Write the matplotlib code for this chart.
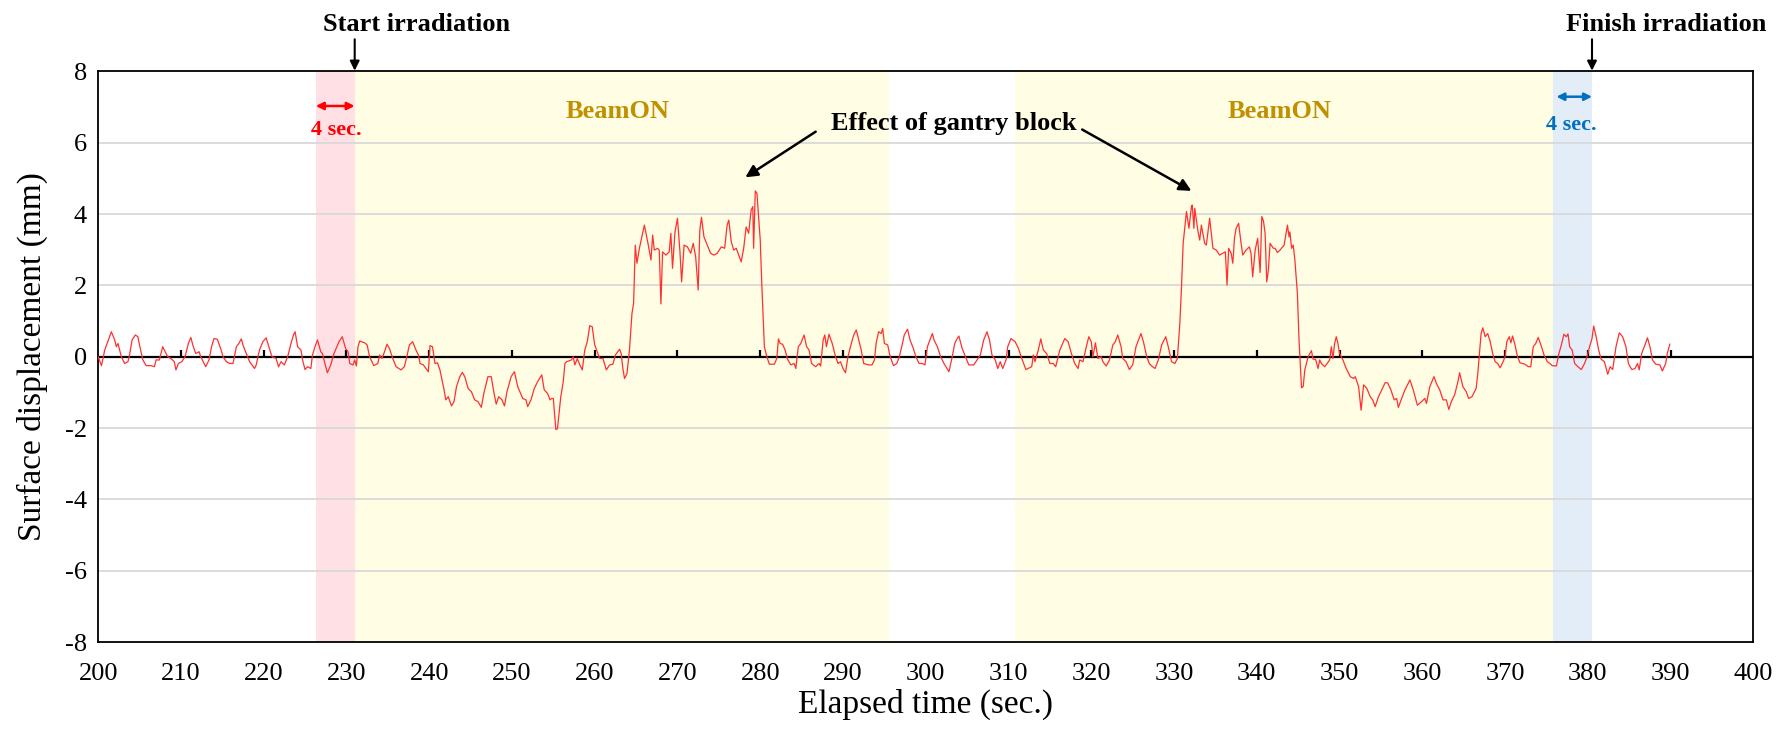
import numpy as np
import matplotlib
matplotlib.use("Agg")
import matplotlib.pyplot as plt

plt.rcParams['font.family'] = ['Liberation Serif', 'DejaVu Serif']
plt.rcParams['axes.unicode_minus'] = False

# surface displacement trace, (elapsed time [sec], displacement [mm])
trace_pre = [
    (200.0, 0.00), (200.4, -0.25), (200.8, 0.19), (201.6, 0.70), (202.0, 0.47), (202.2, 0.28),
    (202.4, 0.37), (202.8, 0.00), (203.2, -0.19), (203.6, -0.14), (203.8, 0.05), (204.1, 0.47),
    (204.5, 0.61), (204.8, 0.56), (205.0, 0.33), (205.4, -0.09), (205.8, -0.25), (206.4, -0.25),
    (206.8, -0.28), (207.0, -0.09), (207.4, -0.09), (207.8, 0.28), (208.1, 0.14), (208.4, 0.00),
    (208.8, -0.05), (209.2, -0.14), (209.4, -0.37), (209.7, -0.19), (210.1, -0.14), (210.5, 0.00),
    (210.9, 0.37), (211.2, 0.54), (211.5, 0.28), (211.8, 0.09), (212.2, 0.14), (212.4, 0.00),
    (212.8, -0.19), (213.0, -0.28), (213.4, -0.09), (213.7, 0.28), (214.0, 0.51), (214.4, 0.49),
    (214.8, 0.23), (215.1, 0.00), (215.5, -0.14), (215.9, -0.19), (216.3, -0.19), (216.7, 0.28),
    (217.0, 0.37), (217.3, 0.50), (217.5, 0.33), (217.9, 0.09), (218.3, -0.14), (218.9, -0.33),
    (219.1, -0.23), (219.5, 0.19), (219.9, 0.42), (220.3, 0.53), (220.7, 0.23), (221.0, 0.00),
    (221.5, -0.05), (221.8, -0.28), (222.1, -0.14), (222.5, -0.23), (222.9, 0.00), (223.3, 0.37),
    (223.6, 0.61), (223.8, 0.70), (224.1, 0.28), (224.5, 0.19), (224.7, -0.09), (225.0, -0.36),
    (225.3, -0.28), (225.7, -0.33), (225.9, 0.05), (226.2, 0.28), (226.5, 0.47), (226.9, 0.14),
    (227.1, 0.09), (227.4, -0.19), (227.7, -0.45), (228.1, -0.23), (228.5, 0.09),
]

trace_beam1_low = [
    (229.1, 0.42), (229.5, 0.56), (229.9, 0.23), (230.2, 0.14), (230.4, -0.19), (230.8, -0.23),
    (231.0, -0.09), (231.2, -0.26), (231.4, 0.28), (231.6, 0.44), (232.2, 0.39), (232.5, 0.33),
    (232.8, 0.00), (233.3, -0.25), (233.8, -0.19), (234.0, 0.05), (234.3, -0.05), (234.6, 0.14),
    (234.9, 0.35), (235.2, 0.23), (235.6, -0.05), (236.0, -0.28), (236.6, -0.37), (237.0, -0.28),
    (237.3, 0.00), (237.6, 0.33), (238.0, 0.42), (238.4, 0.19), (238.7, 0.05), (238.9, -0.19),
    (239.3, -0.23), (239.6, -0.33), (239.9, -0.42), (240.1, 0.31), (240.4, 0.28), (240.7, -0.19),
    (241.0, -0.17), (241.3, -0.37), (241.6, -0.70), (241.8, -0.93), (242.0, -1.21), (242.3, -1.12),
    (242.7, -1.38), (243.0, -1.26), (243.3, -0.84), (243.7, -0.56), (244.0, -0.44), (244.3, -0.56),
    (244.7, -0.89), (245.1, -0.98), (245.5, -1.21), (245.9, -1.26), (246.3, -1.42), (246.6, -1.03),
    (247.1, -0.56), (247.5, -0.56), (247.8, -0.98), (248.1, -1.33), (248.4, -1.12), (248.8, -1.21),
    (249.1, -1.38), (249.4, -0.98), (249.9, -0.56), (250.3, -0.42), (250.7, -0.84), (251.3, -1.17),
    (251.7, -1.21), (251.9, -1.40), (252.3, -1.21), (252.7, -0.89), (253.1, -0.70), (253.6, -0.51),
    (253.9, -0.93), (254.3, -1.03), (254.6, -1.21), (254.8, -1.17), (255.0, -1.17), (255.3, -2.04),
    (255.5, -2.02), (255.9, -1.12), (256.2, -0.70), (256.4, -0.19),
]

trace_beam1_block = [
    (256.6, -0.14), (257.2, -0.09), (257.4, 0.00), (257.6, -0.23), (257.9, -0.05), (258.2, -0.23),
    (258.5, -0.37), (258.8, 0.19), (259.1, 0.42), (259.4, 0.87), (259.7, 0.84), (260.0, 0.33),
    (260.3, 0.14), (260.6, -0.05), (261.0, -0.05), (261.4, -0.37), (261.8, -0.23), (262.2, -0.21),
    (262.5, 0.05), (263.0, 0.21), (263.2, 0.09), (263.4, -0.33), (263.6, -0.61), (263.9, -0.47),
    (264.2, 0.19), (264.5, 1.21), (264.7, 1.50), (264.9, 3.13), (265.1, 2.62), (265.4, 3.04),
    (265.7, 3.36), (266.0, 3.69), (266.4, 3.22), (266.8, 2.71), (267.0, 3.41), (267.2, 2.99),
    (267.6, 3.04), (267.8, 2.99), (268.0, 1.48), (268.2, 2.94), (268.6, 2.85), (269.0, 2.94),
    (269.2, 3.46), (269.4, 2.48), (269.7, 3.50), (270.0, 3.88), (270.3, 2.94), (270.5, 2.10),
    (270.8, 3.13), (271.2, 3.08), (271.6, 2.90), (271.9, 3.18), (272.2, 2.80), (272.5, 1.87),
    (272.7, 3.55), (272.9, 3.91), (273.2, 3.36), (273.6, 3.13), (274.0, 2.90), (274.4, 2.85),
    (274.8, 2.90), (275.3, 3.08), (275.7, 3.04), (276.0, 3.69), (276.2, 3.83), (276.5, 3.22),
    (276.8, 2.99), (277.1, 3.04), (277.4, 2.85), (277.7, 2.66), (278.0, 3.04), (278.3, 3.64),
    (278.6, 3.46), (278.9, 4.11), (279.1, 4.21), (279.2, 3.04), (279.4, 4.65), (279.6, 4.58),
    (279.8, 3.93), (280.0, 3.27), (280.2, 1.96), (280.5, 0.28), (280.8, 0.00), (281.1, -0.21),
    (281.7, -0.21), (282.0, -0.05), (282.2, 0.50), (282.4, 0.37), (282.7, 0.35), (283.0, 0.19),
    (283.3, -0.07),
]

trace_gap = [
    (283.7, -0.23), (284.1, -0.19), (284.3, -0.33), (284.6, 0.28), (284.9, 0.37), (285.3, 0.61),
    (285.6, 0.28), (285.9, 0.19), (286.2, -0.19), (286.7, -0.28), (287.1, -0.19), (287.3, -0.26),
    (287.6, 0.47), (287.8, 0.61), (288.0, 0.28), (288.3, 0.63), (288.7, 0.37), (289.1, 0.00),
    (289.4, -0.19), (289.7, -0.14), (290.0, -0.33), (290.3, -0.45), (290.6, 0.00), (291.0, 0.37),
    (291.3, 0.61), (291.6, 0.75), (291.9, 0.47), (292.2, 0.19), (292.5, -0.19), (293.1, -0.23),
    (293.5, -0.23), (293.8, -0.09), (294.0, 0.37), (294.3, 0.70), (294.6, 0.65), (294.8, 0.79),
    (295.0, 0.37), (295.4, 0.33), (295.7, 0.00), (296.1, -0.25), (296.5, -0.19), (296.8, 0.00),
    (297.1, 0.28), (297.4, 0.61), (297.8, 0.77), (298.1, 0.47), (298.5, 0.23), (298.8, 0.00),
    (299.2, -0.19), (299.6, -0.19), (299.9, -0.23), (300.2, 0.28), (300.5, 0.47), (300.8, 0.65),
    (301.0, 0.47), (301.4, 0.28), (301.8, 0.00), (302.2, -0.19), (302.8, -0.42), (303.2, 0.00),
    (303.5, 0.37), (303.7, 0.47), (304.0, 0.58), (304.4, 0.23), (304.8, 0.00), (305.2, -0.23),
    (305.8, -0.23), (306.2, -0.09), (306.6, 0.05), (307.0, 0.47), (307.4, 0.70), (307.7, 0.47),
    (308.0, 0.05), (308.4, -0.09), (308.7, -0.33), (309.0, -0.14), (309.3, -0.33), (309.7, -0.09),
    (309.9, 0.28), (310.3, 0.51), (310.8, 0.42), (311.2, 0.23), (311.6, -0.05), (312.1, -0.36),
]

trace_beam2_block = [
    (312.8, -0.28), (313.0, 0.05), (313.2, -0.14), (313.6, 0.19), (313.9, 0.50), (314.2, 0.19),
    (314.6, 0.09), (315.0, -0.19), (315.4, -0.19), (315.7, -0.28), (316.2, 0.19), (316.8, 0.51),
    (317.2, 0.42), (317.6, 0.09), (318.0, -0.19), (318.4, -0.33), (318.6, -0.09), (319.0, -0.14),
    (319.4, 0.28), (319.7, 0.56), (320.0, 0.42), (320.2, 0.00), (320.5, 0.39), (320.8, -0.05),
    (321.2, 0.00), (321.4, -0.14), (321.8, -0.26), (322.2, -0.09), (322.6, 0.33), (322.9, 0.42),
    (323.2, 0.61), (323.6, 0.28), (323.8, -0.05), (324.2, -0.14), (324.6, -0.36), (325.0, -0.23),
    (325.4, 0.28), (326.0, 0.65), (326.3, 0.42), (326.7, 0.00), (327.0, -0.19), (327.4, -0.28),
    (327.7, -0.33), (328.1, -0.09), (328.5, 0.33), (329.0, 0.56), (329.3, 0.28), (329.7, -0.14),
    (330.1, -0.19), (330.4, -0.05), (330.7, 0.93), (330.9, 1.96), (331.1, 3.18), (331.3, 3.64),
    (331.5, 4.07), (331.8, 3.60), (332.1, 4.21), (332.2, 4.25), (332.4, 3.60), (332.5, 4.16),
    (332.9, 3.50), (333.1, 3.27), (333.3, 3.69), (333.7, 3.18), (333.9, 3.13), (334.3, 3.88),
    (334.7, 3.04), (335.1, 2.99), (335.5, 2.85), (335.9, 2.90), (336.2, 2.94), (336.4, 2.01),
    (336.6, 3.04), (336.9, 2.90), (337.1, 2.62), (337.3, 3.32), (337.5, 3.60), (337.8, 3.74),
    (338.1, 3.18), (338.3, 2.85), (338.7, 2.99), (339.1, 3.08), (339.3, 2.90), (339.5, 2.24),
    (339.8, 2.99), (340.1, 3.32),
]

trace_beam2_low = [
    (340.4, 2.36), (340.6, 3.93), (340.8, 3.81), (341.0, 3.46), (341.2, 2.10), (341.4, 2.43),
    (341.6, 3.18), (342.0, 3.04), (342.2, 3.04), (342.5, 2.92), (342.8, 2.99), (343.3, 3.13),
    (343.7, 3.69), (343.9, 3.36), (344.0, 3.50), (344.2, 3.04), (344.4, 3.13), (344.6, 2.71),
    (344.9, 1.78), (345.1, 0.47), (345.4, -0.87), (345.6, -0.84), (345.8, -0.37), (346.2, 0.00),
    (346.6, 0.17), (346.8, -0.07), (347.1, -0.07), (347.4, -0.33), (347.6, -0.09), (347.8, -0.19),
    (348.2, -0.28), (348.5, -0.19), (348.8, -0.09), (349.0, 0.28), (349.2, -0.05), (349.4, 0.37),
    (349.6, 0.56), (349.8, 0.37), (350.0, 0.09), (350.4, -0.09), (350.8, -0.33), (351.3, -0.56),
    (351.7, -0.61), (351.9, -0.56), (352.3, -0.84), (352.6, -1.50), (352.9, -0.79), (353.3, -0.89),
    (353.7, -1.12), (354.0, -1.21), (354.3, -1.40), (354.7, -1.12), (355.1, -0.93), (355.5, -0.73),
    (355.8, -0.73), (356.2, -0.93), (356.6, -1.21), (356.9, -1.17), (357.1, -1.42), (357.5, -1.17),
    (357.9, -0.93), (358.5, -0.65), (358.9, -0.93), (359.4, -1.36), (359.9, -1.26), (360.3, -1.17),
    (360.5, -1.31), (360.9, -0.84), (361.4, -0.56), (361.7, -0.75), (362.1, -0.93), (362.5, -1.21),
    (362.9, -1.21), (363.2, -1.48), (363.5, -1.26), (363.9, -1.07), (364.3, -0.70), (364.5, -0.45),
    (364.9, -0.84), (365.3, -0.98), (365.6, -1.17), (366.0, -1.12), (366.5, -0.89), (366.7, -0.47),
    (367.1, 0.65), (367.3, 0.81),
]

trace_post = [
    (367.6, 0.56), (367.9, 0.65), (368.2, 0.42), (368.5, 0.09), (368.8, -0.14), (369.1, -0.19),
    (369.4, -0.31), (369.7, -0.17), (370.0, 0.00), (370.2, 0.42), (370.5, 0.56), (370.7, 0.39),
    (370.9, 0.58), (371.2, 0.33), (371.5, 0.00), (371.8, -0.17), (372.4, -0.21), (372.8, -0.28),
    (373.1, -0.28), (373.4, 0.28), (373.7, 0.37), (374.0, 0.54), (374.4, 0.28), (374.7, 0.05),
    (375.1, -0.14), (375.4, -0.19), (375.7, -0.25), (376.2, -0.26), (376.5, 0.09), (376.8, 0.33),
    (377.1, 0.63), (377.4, 0.56), (377.6, 0.64), (377.8, 0.28), (378.1, 0.19), (378.4, -0.19),
    (378.8, -0.28), (379.2, -0.36), (379.6, -0.19), (379.9, 0.00), (380.2, 0.28), (380.5, 0.51),
    (380.7, 0.86), (381.0, 0.56), (381.3, 0.19), (381.6, -0.07), (382.0, -0.14), (382.4, -0.49),
    (382.7, -0.28), (383.0, -0.36), (383.4, 0.28), (383.8, 0.67), (384.2, 0.56), (384.6, 0.28),
    (384.9, -0.19), (385.3, -0.36), (385.7, -0.33), (386.0, -0.19), (386.2, -0.37), (386.5, 0.09),
    (386.9, 0.33), (387.2, 0.53), (387.5, 0.28), (387.8, -0.09), (388.2, -0.21), (388.7, -0.23),
    (389.0, -0.40), (389.4, -0.19), (389.6, 0.09), (389.9, 0.35),
]

# time windows
pre_window = (226.3, 231.0)
beam_windows = [(231.0, 295.5), (310.8, 375.8)]
post_window = (375.8, 380.5)
start_time = 231.0
finish_time = 380.5

x_ticks = np.arange(200, 401, 10)
y_ticks = np.arange(-8, 9, 2)

segments = [trace_pre, trace_beam1_low, trace_beam1_block, trace_gap,
            trace_beam2_block, trace_beam2_low, trace_post]
points = np.array([p for seg in segments for p in seg])
time, disp = points[:, 0], points[:, 1]

fig = plt.figure(figsize=(17.81, 7.30), dpi=100)
ax = fig.add_axes([0.0551, 0.1205, 0.9294, 0.7817])

# shaded windows
ax.axvspan(*pre_window, color='#FFE1E5', lw=0, zorder=0)
for w in beam_windows:
    ax.axvspan(*w, color='#FFFDE4', lw=0, zorder=0)
ax.axvspan(*post_window, color='#E2EDF8', lw=0, zorder=0)

# horizontal grid
for y in y_ticks[1:-1]:
    if y != 0:
        ax.axhline(y, color='#D9D9D9', lw=1.3, zorder=1)

# zero axis line with small tick marks
ax.axhline(0, color='black', lw=1.6, zorder=2)
ax.vlines(x_ticks[1:-1], 0, 0.2, color='black', lw=1.6, zorder=2)

ax.plot(time, disp, color='#FF3030', lw=0.9, zorder=3)

ax.set_xlim(200, 400)
ax.set_ylim(-8, 8)
ax.set_xticks(x_ticks)
ax.set_yticks(y_ticks)
ax.tick_params(length=0, labelsize=19)
ax.tick_params(axis='x', pad=15)
ax.tick_params(axis='y', pad=8)
for s in ax.spines.values():
    s.set_color('black')
    s.set_linewidth(1.3)

ax.set_xlabel('Elapsed time (sec.)', fontsize=24, labelpad=3)
ax.set_ylabel('Surface displacement (mm)', fontsize=24, labelpad=12)

# irradiation start / finish markers
arrow_kw = dict(arrowstyle='-|>', color='black', lw=1.5, mutation_scale=14, shrinkA=0, shrinkB=0)
ax.annotate('', xy=(start_time, 8.02), xytext=(start_time, 8.9), arrowprops=arrow_kw, annotation_clip=False)
ax.annotate('', xy=(finish_time, 8.02), xytext=(finish_time, 8.9), arrowprops=arrow_kw, annotation_clip=False)
ax.text(227.2, 9.13, 'Start irradiation', fontsize=19, fontweight='bold', ha='left', va='baseline', clip_on=False)
ax.text(377.3, 9.13, 'Finish irradiation', fontsize=19, fontweight='bold', ha='left', va='baseline', clip_on=False)

# 4 sec. windows
ax.annotate('', xy=(pre_window[0], 7.03), xytext=(pre_window[1], 7.03),
            arrowprops=dict(arrowstyle='<|-|>', color='#FF0000', lw=1.8, mutation_scale=11, shrinkA=0, shrinkB=0))
ax.text(sum(pre_window) / 2 + 0.1, 6.21, '4 sec.', color='#FF0000', fontsize=16, fontweight='bold',
        ha='center', va='baseline')
ax.annotate('', xy=(post_window[0] + 0.4, 7.29), xytext=(post_window[1], 7.29),
            arrowprops=dict(arrowstyle='<|-|>', color='#0070C0', lw=1.8, mutation_scale=11, shrinkA=0, shrinkB=0))
ax.text(378.0, 6.36, '4 sec.', color='#0070C0', fontsize=16, fontweight='bold', ha='center', va='baseline')

for w in beam_windows:
    ax.text(sum(w) / 2 - 0.5, 6.69, 'BeamON', color='#BF9000', fontsize=19, fontweight='bold',
            ha='center', va='baseline')

# gantry block callout
ax.text(288.5, 6.35, 'Effect of gantry block', fontsize=19, fontweight='bold', ha='left', va='baseline')
block_kw = dict(arrowstyle='-|>', color='black', lw=1.8, mutation_scale=18, shrinkA=0, shrinkB=0)
ax.annotate('', xy=(278.2, 5.03), xytext=(286.7, 6.31), arrowprops=block_kw)
ax.annotate('', xy=(332.1, 4.65), xytext=(318.9, 6.37), arrowprops=block_kw)

fig.savefig('out.png', dpi=100)
